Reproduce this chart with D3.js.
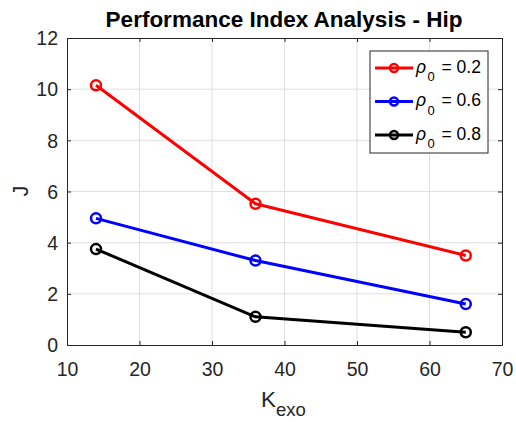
<!DOCTYPE html>
<html><head><meta charset="utf-8">
<script src="https://cdn.jsdelivr.net/npm/d3@7"></script>
<style>body{margin:0;background:#fff;} svg{display:block;font-family:"Liberation Sans",Arial,sans-serif;}</style>
</head><body><svg id="c" width="516" height="422"></svg>
<script>
const kexo = [14, 36, 65];
const rho02 = [10.15, 5.52, 3.5];
const rho06 = [4.95, 3.3, 1.6];
const rho08 = [3.75, 1.1, 0.5];
const seriesNames = ["0.2", "0.6", "0.8"];
const seriesColors = ["#ff0000", "#0000ff", "#000000"];
const xTicks = [10, 20, 30, 40, 50, 60, 70];
const yTicks = [0, 2, 4, 6, 8, 10, 12];

const series = [rho02, rho06, rho08].map((v, i) => ({name: seriesNames[i], color: seriesColors[i], values: v}));
const svg = d3.select("#c");
const L = 67, R = 502, T = 38, B = 345;
const x = d3.scaleLinear().domain([10, 70]).range([L, R]);
const y = d3.scaleLinear().domain([0, 12]).range([B, T]);

svg.append("rect").attr("x", L).attr("y", T).attr("width", R - L).attr("height", B - T).attr("fill", "#fff");
// grid
const g = svg.append("g");
g.selectAll(".gx").data(xTicks.slice(1, -1)).join("line")
  .attr("x1", d => x(d)).attr("x2", d => x(d)).attr("y1", T).attr("y2", B)
  .attr("stroke", "#dfdfdf").attr("stroke-width", 1);
g.selectAll(".gy").data(yTicks.slice(1, -1)).join("line")
  .attr("y1", d => y(d)).attr("y2", d => y(d)).attr("x1", L).attr("x2", R)
  .attr("stroke", "#dfdfdf").attr("stroke-width", 1);

// axes
const xa = svg.append("g").attr("transform", `translate(0,${B})`)
  .call(d3.axisBottom(x).tickValues(xTicks).tickSize(-4).tickPadding(17));
const xa2 = svg.append("g").attr("transform", `translate(0,${T})`)
  .call(d3.axisTop(x).tickValues(xTicks).tickSize(-4).tickFormat(""));
const ya = svg.append("g").attr("transform", `translate(${L},0)`)
  .call(d3.axisLeft(y).tickValues(yTicks).tickSize(-4).tickPadding(9));
const ya2 = svg.append("g").attr("transform", `translate(${R},0)`)
  .call(d3.axisRight(y).tickValues(yTicks).tickSize(-4).tickFormat(""));
[xa, xa2, ya, ya2].forEach(a => {
  a.selectAll("path.domain").attr("stroke", "#262626").attr("stroke-width", 1);
  a.selectAll(".tick line").attr("stroke", "#262626");
  a.selectAll("text").attr("fill", "#262626").attr("font-size", 19.5).attr("font-family", "Liberation Sans, Arial, sans-serif");
});
xa.selectAll("text").attr("dy", "0.71em");
ya.selectAll("text").attr("dy", "0.35em");

// lines
const line = d3.line().x((d, i) => x(kexo[i])).y(d => y(d));
series.forEach(s => {
  svg.append("path").datum(s.values).attr("d", line).attr("fill", "none")
    .attr("stroke", s.color).attr("stroke-width", 3).attr("stroke-linejoin", "round");
  svg.selectAll(null).data(s.values).join("circle")
    .attr("cx", (d, i) => x(kexo[i])).attr("cy", d => y(d)).attr("r", 5)
    .attr("fill", "none").attr("stroke", s.color).attr("stroke-width", 2.5);
});

// title & labels
svg.append("text").attr("x", 284).attr("y", 27).attr("text-anchor", "middle")
  .attr("font-weight", "bold").attr("font-size", 22.5).attr("fill", "#000")
  .text("Performance Index Analysis - Hip");
svg.append("text").attr("transform", `translate(28,191) rotate(-90)`)
  .attr("text-anchor", "middle").attr("font-size", 22).attr("fill", "#262626").text("J");
const kl = svg.append("text").attr("x", 261).attr("y", 406.5).attr("text-anchor", "start")
  .attr("font-size", 22.5).attr("fill", "#262626");
kl.append("tspan").text("K");
kl.append("tspan").attr("dy", 9).attr("font-size", 18.5).text("exo");

// legend
const lg = svg.append("g");
lg.append("rect").attr("x", 370).attr("y", 51).attr("width", 118).attr("height", 102)
  .attr("fill", "#fff").attr("stroke", "#262626").attr("stroke-width", 1);
series.forEach((s, i) => {
  const cy = 68 + i * 33.5;
  lg.append("line").attr("x1", 375).attr("x2", 413).attr("y1", cy).attr("y2", cy)
    .attr("stroke", s.color).attr("stroke-width", 3);
  lg.append("circle").attr("cx", 394).attr("cy", cy).attr("r", 4)
    .attr("fill", "none").attr("stroke", s.color).attr("stroke-width", 2.5);
  const t = lg.append("text").attr("x", 416).attr("y", cy + 4.5).attr("font-size", 17.5).attr("fill", "#000");
  t.append("tspan").attr("font-style", "italic").text("ρ");
  t.append("tspan").attr("x", 427.5).attr("dy", 8.5).attr("font-size", 13).text("0");
  t.append("tspan").attr("x", 441.5).attr("dy", -8.5).text("= " + s.name);
});
</script></body></html>
